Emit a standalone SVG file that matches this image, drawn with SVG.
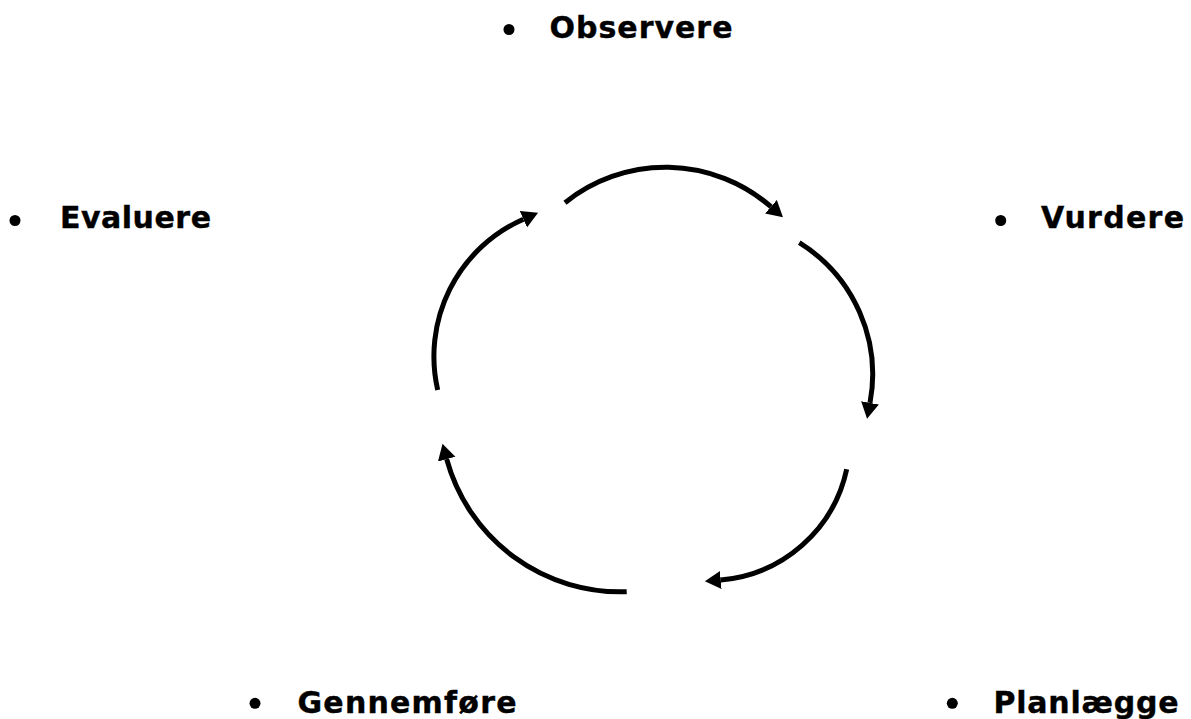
<svg xmlns="http://www.w3.org/2000/svg" width="1191" height="719" viewBox="0 0 1191 719">
<style>
.lbl{font-family:"DejaVu Sans","Verdana",sans-serif;font-weight:bold;font-size:30px;fill:#000;stroke:#000;stroke-width:0.4}
.dot{fill:#000}
.arc{fill:none;stroke:#000;stroke-width:5;stroke-linecap:butt}
</style>
<defs>
<marker id="ah" markerUnits="userSpaceOnUse" markerWidth="17" markerHeight="19" refX="0" refY="9" orient="auto" viewBox="0 0 17 18">
<path d="M0,0 L16,9 L0,18 Z" fill="#000"/>
</marker>
</defs>
<rect width="1191" height="719" fill="#fff"/>
<g id="connectors">
<path class="arc" d="M565,202.7 A160.5,160.5 0 0 1 770.9,206.7" marker-end="url(#ah)"/>
<path class="arc" d="M799.3,242.7 A155,155 0 0 1 870,402.9" marker-end="url(#ah)"/>
<path class="arc" d="M846.7,469.3 A141,141 0 0 1 720.8,580" marker-end="url(#ah)"/>
<path class="arc" d="M626.7,591.7 A180,180 0 0 1 446.7,459.2" marker-end="url(#ah)"/>
<path class="arc" d="M437.7,390 A150,150 0 0 1 523.4,219.2" marker-end="url(#ah)"/>
</g>
<g id="observere">
<circle class="dot" cx="509" cy="29.5" r="5.5"/>
<text class="lbl" x="549.5" y="38" textLength="183" lengthAdjust="spacing">Observere</text>
</g>
<g id="vurdere">
<circle class="dot" cx="1000.7" cy="220.5" r="5.5"/>
<text class="lbl" x="1041" y="228.3" textLength="143" lengthAdjust="spacing">Vurdere</text>
</g>
<g id="planlaegge">
<circle class="dot" cx="952.3" cy="703.3" r="5.5"/>
<text class="lbl" x="993.5" y="713.3" textLength="185" lengthAdjust="spacing">Planlægge</text>
</g>
<g id="gennemfoere">
<circle class="dot" cx="255" cy="703.3" r="5.5"/>
<text class="lbl" x="297.5" y="713.3" textLength="219" lengthAdjust="spacing">Gennemføre</text>
</g>
<g id="evaluere">
<circle class="dot" cx="15" cy="220.5" r="5.5"/>
<text class="lbl" x="60" y="228.3" textLength="151" lengthAdjust="spacing">Evaluere</text>
</g>
</svg>
